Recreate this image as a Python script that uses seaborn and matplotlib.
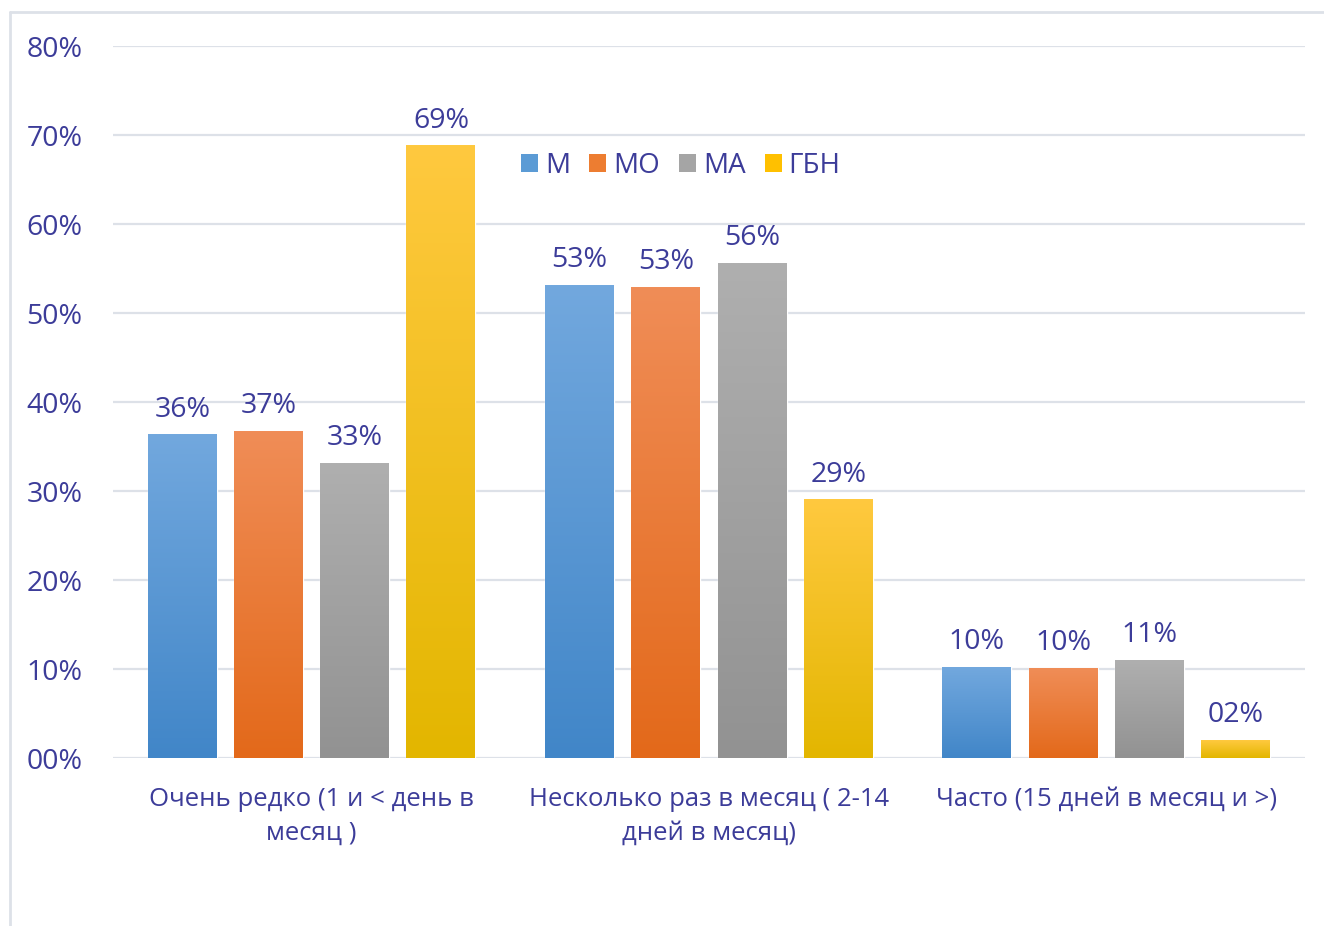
import numpy as np
import pandas as pd
import seaborn as sns
import matplotlib.pyplot as plt
from matplotlib.colors import LinearSegmentedColormap
from matplotlib.lines import Line2D
from matplotlib.patches import Patch

# data (percent)
categories = ["Очень редко (1 и < день в\nмесяц )",
              "Несколько раз в месяц ( 2-14\nдней в месяц)",
              "Часто (15 дней в месяц и >)"]
series = ["М", "МО", "МА", "ГБН"]
m_vals = [36.3, 53.1, 10.2]
mo_vals = [36.7, 52.9, 10.1]
ma_vals = [33.1, 55.6, 11.0]
gbn_vals = [68.8, 29.0, 2.0]

# gradient colours (top, bottom) per series
top_colors = ["#72A8DE", "#F08D57", "#AFAFAF", "#FFC93F"]
bottom_colors = ["#4186C8", "#E3691A", "#929292", "#E3B600"]
mid_colors = ["#5B9BD5", "#ED7D31", "#A5A5A5", "#FFC000"]

text_col = "#3C3C99"
grid_col = "#DDE1E8"

rows = []
for s, vals in zip(series, [m_vals, mo_vals, ma_vals, gbn_vals]):
    for c, v in zip(categories, vals):
        rows.append({"cat": c, "series": s, "val": v})
df = pd.DataFrame(rows)

sns.set_style("white")
plt.rcParams["font.family"] = ["Open Sans", "DejaVu Sans"]

fig = plt.figure(figsize=(13.24, 9.26), dpi=100)
ax = fig.add_axes([0.0853, 0.1814, 0.9003, 0.7689])

sns.barplot(data=df, x="cat", y="val", hue="series", palette=mid_colors,
            width=0.868, gap=0.2, legend=False, ax=ax, zorder=2)

# gradient fill for each bar
for i, cont in enumerate(ax.containers):
    cmap = LinearSegmentedColormap.from_list("g%d" % i, [bottom_colors[i], top_colors[i]])
    grad = np.linspace(0, 1, 256).reshape(-1, 1)
    for p in cont.patches:
        x0, y0 = p.get_x(), p.get_y()
        w, h = p.get_width(), p.get_height()
        ax.imshow(grad, extent=[x0, x0 + w, y0, y0 + h], origin="lower",
                  cmap=cmap, aspect="auto", zorder=2.5)
    ax.bar_label(cont, labels=[f"{v:02.0f}%" for v in cont.datavalues],
                 padding=8, fontsize=20.5, color=text_col)

ax.set_xlim(-0.5, 2.5)
ax.set_ylim(0, 80)
ax.set_yticks(range(0, 81, 10))
ax.set_yticklabels([f"{v:02d}%" for v in range(0, 81, 10)])
ax.yaxis.grid(True, color=grid_col, linewidth=1.6, zorder=0)
ax.set_axisbelow(True)
for sp in ax.spines.values():
    sp.set_visible(False)
ax.tick_params(axis="y", length=0, pad=22, labelsize=20.5, labelcolor=text_col)
ax.tick_params(axis="x", length=0, pad=21, labelsize=18.5, labelcolor=text_col)
ax.set_xlabel("")
ax.set_ylabel("")
for lab in ax.get_xticklabels():
    lab.set_linespacing(1.45)

handles = [Patch(facecolor=c, edgecolor="none") for c in mid_colors]
ax.legend(handles, series, loc="center", bbox_to_anchor=(0.4765, 0.832), ncol=4,
          frameon=False, fontsize=20, labelcolor=text_col, handlelength=0.6,
          handleheight=0.6, handletextpad=0.25, columnspacing=0.7)

# outer chart frame
fig.add_artist(Line2D([10 / 1324, 10 / 1324], [0, 1 - 12 / 926], color=grid_col, lw=2))
fig.add_artist(Line2D([10 / 1324, 1], [1 - 12 / 926, 1 - 12 / 926], color=grid_col, lw=2))

fig.savefig("out.png", dpi=100)
